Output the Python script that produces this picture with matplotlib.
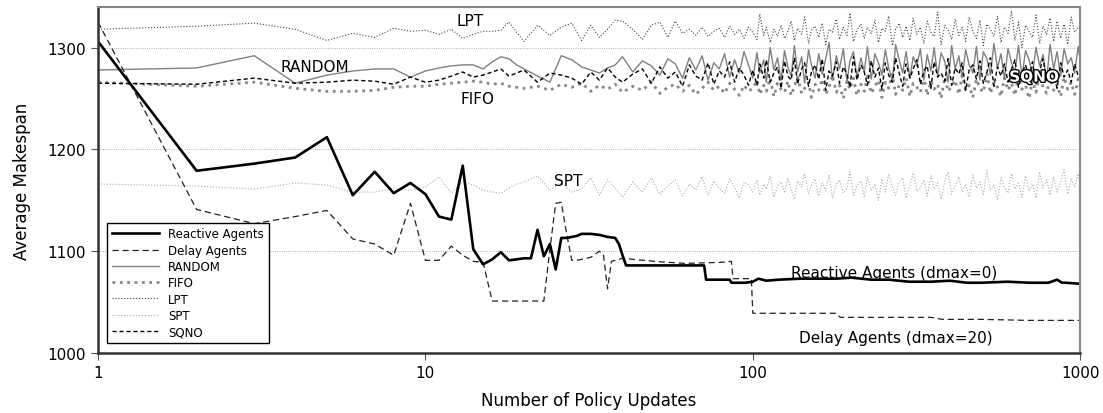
import matplotlib
matplotlib.use("Agg")
import matplotlib.pyplot as plt
import matplotlib.patheffects as pe

# x positions (policy updates) shared by the noisy heuristic baselines
updates = [1, 2, 3, 4, 5, 6, 7, 8, 9, 10, 11, 12, 13, 14, 15, 16, 17, 18, 19, 20,
           22, 24, 26, 28, 30, 32, 34, 36, 38, 40,
           43, 46, 49, 52, 55, 58, 61, 64, 67, 70, 73, 76, 79, 82, 85, 88, 91, 94, 97,
           100, 103, 105, 108, 110, 113, 116, 119, 122, 125, 128, 131, 134, 137, 141,
           144, 148, 151, 155, 159, 163, 167, 171, 175, 180, 184, 189, 194, 198, 203,
           208, 214, 219, 224, 230, 236, 242, 248, 254, 260, 267, 273, 280, 287, 294,
           302, 309, 317, 325, 333, 341, 350, 358, 367, 376, 386, 395, 405, 415, 426,
           436, 447, 458, 470, 482, 494, 506, 519, 532, 545, 559, 573, 587, 602, 617,
           632, 648, 664, 681, 698, 715, 733, 752, 770, 790, 809, 830, 850, 872, 893,
           916, 939, 962, 986, 1000]

lpt = [1318, 1321, 1324, 1318, 1307, 1314, 1310, 1319, 1316, 1317,
       1313, 1318, 1309, 1313, 1316, 1316, 1317, 1325, 1315, 1306,
       1322, 1312, 1320, 1324, 1307, 1322, 1310, 1318, 1327, 1326,
       1318, 1308, 1322, 1325, 1310, 1326, 1314, 1318, 1312, 1320,
       1311, 1316, 1319, 1310, 1321, 1313, 1318, 1309, 1320,
       1315, 1308, 1333, 1312, 1320, 1305, 1318, 1311, 1322, 1309,
       1316, 1326, 1307, 1319, 1313, 1330, 1304, 1317, 1321, 1310,
       1324, 1303, 1318, 1315, 1328, 1308, 1320, 1312, 1334, 1306,
       1317, 1323, 1309, 1320, 1314, 1327, 1305, 1319, 1316, 1331,
       1302, 1318, 1324, 1310, 1321, 1307, 1329, 1313, 1320, 1304,
       1326, 1315, 1311, 1335, 1303, 1322, 1317, 1308, 1328, 1312,
       1320, 1306, 1330, 1316, 1309, 1327, 1302, 1323, 1318, 1311,
       1331, 1305, 1320, 1314, 1336, 1307, 1325, 1300, 1322, 1316,
       1310, 1332, 1304, 1321, 1313, 1329, 1306, 1326, 1309, 1323,
       1303, 1330, 1315, 1320, 1318]

random_ = [1278, 1280, 1292, 1265, 1273, 1277, 1279, 1279, 1271, 1277,
           1280, 1282, 1283, 1283, 1279, 1286, 1291, 1289, 1283, 1279,
           1272, 1266, 1292, 1288, 1281, 1278, 1275, 1280, 1283, 1291,
           1276, 1287, 1282, 1273, 1289, 1284, 1270, 1290, 1278, 1292,
           1268, 1285, 1279, 1294, 1271, 1288, 1275, 1296, 1283,
           1270, 1295, 1275, 1288, 1266, 1300, 1278, 1290, 1268, 1297,
           1281, 1272, 1302, 1276, 1291, 1265, 1298, 1283, 1270, 1294,
           1274, 1289, 1305, 1268, 1292, 1279, 1299, 1266, 1287, 1296,
           1271, 1290, 1276, 1301, 1269, 1294, 1285, 1273, 1298, 1280,
           1267, 1303, 1288, 1275, 1296, 1270, 1291, 1282, 1299, 1268,
           1293, 1277, 1300, 1272, 1295, 1286, 1266, 1302, 1279, 1292,
           1270, 1298, 1283, 1275, 1301, 1268, 1296, 1289, 1273, 1304,
           1280, 1294, 1269, 1299, 1285, 1276, 1302, 1271, 1297, 1288,
           1274, 1300, 1282, 1293, 1268, 1303, 1279, 1296, 1272, 1299,
           1284, 1290, 1275, 1301, 1288]

fifo = [1266, 1262, 1266, 1260, 1257, 1257, 1258, 1261, 1262, 1262,
        1264, 1265, 1266, 1267, 1266, 1264, 1265, 1262, 1261, 1260,
        1262, 1258, 1264, 1261, 1265, 1257, 1263, 1259, 1264, 1256,
        1262, 1258, 1266, 1255, 1261, 1264, 1257, 1263, 1254, 1260,
        1266, 1258, 1262, 1255, 1265, 1259, 1253, 1263, 1257,
        1260, 1268, 1254, 1263, 1257, 1270, 1252, 1265, 1259, 1256,
        1267, 1253, 1262, 1271, 1255, 1260, 1266, 1251, 1264, 1258,
        1269, 1254, 1261, 1273, 1256, 1263, 1250, 1267, 1259, 1270,
        1253, 1264, 1257, 1272, 1255, 1262, 1268, 1251, 1266, 1260,
        1274, 1254, 1263, 1258, 1270, 1252, 1265, 1261, 1256, 1272,
        1253, 1267, 1259, 1264, 1250, 1271, 1257, 1262, 1268, 1254,
        1273, 1258, 1263, 1251, 1269, 1260, 1256, 1274, 1255, 1266,
        1261, 1252, 1270, 1258, 1265, 1253, 1272, 1259, 1263, 1250,
        1268, 1256, 1274, 1261, 1255, 1270, 1258, 1264, 1252, 1271,
        1259, 1266, 1254, 1269, 1262]

sqno = [1265, 1264, 1270, 1265, 1266, 1268, 1267, 1264, 1271, 1266,
        1268, 1272, 1276, 1271, 1273, 1276, 1279, 1272, 1275, 1278,
        1266, 1275, 1273, 1270, 1264, 1276, 1268, 1280, 1271, 1266,
        1274, 1279, 1265, 1281, 1270, 1276, 1262, 1283, 1272, 1268,
        1285, 1264, 1277, 1271, 1286, 1266, 1280, 1273, 1263,
        1278, 1263, 1284, 1270, 1288, 1266, 1275, 1281, 1260, 1287,
        1272, 1268, 1290, 1264, 1279, 1285, 1262, 1276, 1283, 1269,
        1289, 1258, 1277, 1272, 1286, 1265, 1281, 1274, 1261, 1291,
        1268, 1283, 1276, 1263, 1287, 1271, 1280, 1259, 1285, 1273,
        1266, 1290, 1275, 1262, 1284, 1270, 1279, 1288, 1264, 1277,
        1282, 1260, 1286, 1271, 1275, 1267, 1289, 1263, 1280, 1274,
        1285, 1258, 1278, 1283, 1269, 1287, 1265, 1276, 1290, 1262,
        1281, 1272, 1284, 1266, 1279, 1288, 1261, 1275, 1283, 1270,
        1286, 1264, 1277, 1289, 1268, 1280, 1273, 1260, 1285, 1271,
        1278, 1266, 1284, 1272, 1269]

spt = [1166, 1164, 1161, 1167, 1165, 1158, 1158, 1162, 1160, 1163,
       1173, 1157, 1168, 1165, 1160, 1158, 1157, 1162, 1166, 1168,
       1174, 1160, 1167, 1158, 1161, 1172, 1155, 1170, 1162, 1153,
       1168, 1158, 1172, 1156, 1164, 1170, 1154, 1166, 1160, 1173,
       1155, 1169, 1162, 1157, 1171, 1163, 1152, 1168, 1165,
       1158, 1170, 1155, 1166, 1161, 1174, 1153, 1164, 1168, 1157,
       1172, 1160, 1151, 1169, 1163, 1176, 1156, 1165, 1171, 1154,
       1167, 1159, 1175, 1152, 1166, 1170, 1157, 1162, 1178, 1155,
       1164, 1169, 1153, 1173, 1160, 1166, 1150, 1171, 1158, 1176,
       1163, 1155, 1168, 1172, 1152, 1165, 1177, 1159, 1162, 1170,
       1154, 1174, 1161, 1167, 1151, 1169, 1178, 1156, 1164, 1173,
       1158, 1166, 1153, 1175, 1162, 1168, 1155, 1179, 1160, 1165,
       1150, 1172, 1163, 1157, 1176, 1161, 1167, 1153, 1174, 1159,
       1166, 1152, 1178, 1162, 1170, 1155, 1173, 1158, 1168, 1180,
       1156, 1171, 1163, 1176, 1165]

# learning agents
reactive_updates = [1, 2, 3, 4, 5, 6, 7, 8, 9, 10, 11, 12, 13, 14, 15, 16, 17, 18, 19, 20,
                    21, 22, 23, 24, 25, 26, 27, 28, 29, 30, 32, 34, 36, 38, 39, 40, 41,
                    50, 60, 71, 72, 85, 86, 95, 100, 104, 110, 120, 140, 160, 180, 200,
                    230, 260, 300, 350, 400, 450, 500, 600, 700, 800, 850, 880, 900, 1000]
reactive = [1306, 1179, 1186, 1192, 1212, 1155, 1178, 1157, 1167, 1156,
            1134, 1131, 1184, 1102, 1087, 1092, 1099, 1091, 1092, 1093,
            1093, 1121, 1095, 1107, 1082, 1113, 1113, 1114, 1115, 1117,
            1117, 1116, 1114, 1113, 1107, 1096, 1086, 1086, 1086, 1086,
            1072, 1072, 1069, 1069, 1070, 1073, 1071, 1072, 1073, 1073,
            1073, 1074, 1072, 1072, 1070, 1070, 1071, 1069, 1069, 1070,
            1069, 1069, 1072, 1069, 1069, 1068]

delay_updates = [1, 2, 3, 4, 5, 6, 7, 8, 9, 10, 11, 12, 13, 14, 15, 16, 17, 18, 19, 20,
                 21, 22, 23, 24, 25, 26, 27, 28, 29, 30, 32, 34, 35, 36, 37, 40,
                 50, 62, 80, 86, 87, 99, 100, 180, 185, 250, 350, 380, 500, 700, 1000]
delay = [1325, 1141, 1127, 1134, 1140, 1112, 1107, 1096, 1147, 1091,
         1091, 1105, 1096, 1090, 1089, 1051, 1051, 1051, 1051, 1051,
         1051, 1051, 1051, 1102, 1147, 1148, 1117, 1091, 1091, 1092,
         1094, 1100, 1096, 1063, 1090, 1093, 1090, 1088, 1089, 1090,
         1073, 1073, 1039, 1039, 1035, 1035, 1035, 1033, 1033, 1032, 1032]

fig = plt.figure(figsize=(11.03, 4.14), dpi=100)
ax = fig.add_axes([0.0889, 0.145, 0.8904, 0.836])

l_lpt, = ax.plot(updates, lpt, color='#444444', lw=0.8, ls=':', label='LPT')
l_spt, = ax.plot(updates, spt, color='#aaaaaa', lw=0.8, ls=':', label='SPT')
l_fifo, = ax.plot(updates, fifo, color='#888888', lw=2.0, ls=':', label='FIFO')
l_rand, = ax.plot(updates, random_, color='#808080', lw=1.0, ls='-', label='RANDOM')
l_sqno, = ax.plot(updates, sqno, color='black', lw=1.0, ls=(0, (3, 2)), label='SQNO')
l_delay, = ax.plot(delay_updates, delay, color='#222222', lw=0.9, ls=(0, (5, 3)),
                   label='Delay Agents')
l_react, = ax.plot(reactive_updates, reactive, color='black', lw=1.9, label='Reactive Agents')

ax.set_xscale('log')
ax.set_xlim(1, 1000)
ax.set_ylim(1000, 1340)
ax.set_xticks([1, 10, 100, 1000])
ax.set_xticklabels(['1', '10', '100', '1000'])
ax.xaxis.set_minor_locator(matplotlib.ticker.NullLocator())
ax.set_yticks([1000, 1100, 1200, 1300])
ax.tick_params(labelsize=11, length=5, color='#555555')
ax.grid(axis='y', ls=':', lw=0.6, color='#999999')

for s in ['top', 'right']:
    ax.spines[s].set_color('#888888')
    ax.spines[s].set_linewidth(1.5)
for s in ['left', 'bottom']:
    ax.spines[s].set_color('#333333')
    ax.spines[s].set_linewidth(1.8)

ax.set_xlabel('Number of Policy Updates', fontsize=12, labelpad=8)
ax.set_ylabel('Average Makespan', fontsize=12, labelpad=12)

ax.text(13.7, 1327, 'LPT', fontsize=11, ha='center', va='center')
ax.text(4.6, 1281, 'RANDOM', fontsize=11, ha='center', va='center')
ax.text(14.4, 1250, 'FIFO', fontsize=11, ha='center', va='center')
ax.text(27.2, 1169, 'SPT', fontsize=11, ha='center', va='center')
ax.text(723, 1271, 'SQNO', fontsize=11, ha='center', va='center', color='white',
        fontweight='bold', path_effects=[pe.withStroke(linewidth=2, foreground='black')])
ax.text(270, 1079, 'Reactive Agents (dmax=0)', fontsize=11, ha='center', va='center')
ax.text(274, 1015, 'Delay Agents (dmax=20)', fontsize=11, ha='center', va='center')

leg = ax.legend(handles=[l_react, l_delay, l_rand, l_fifo, l_lpt, l_spt, l_sqno],
                loc='lower left', bbox_to_anchor=(0.009, 0.029), borderaxespad=0,
                fontsize=8.5, handlelength=4.0, labelspacing=0.28, fancybox=False,
                framealpha=1, edgecolor='black')
leg.get_frame().set_linewidth(1.0)

fig.savefig('out.png', dpi=100)
